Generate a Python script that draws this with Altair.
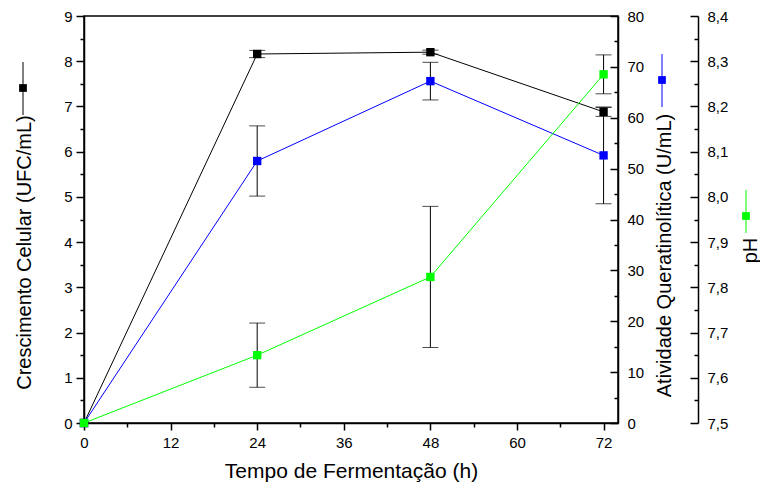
import altair as alt
import pandas as pd

# ---- data ----
time_h = [0, 24, 48, 72]
cresc = [0.0, 8.16, 8.20, 6.88]
cresc_err = [0.0, 0.08, 0.045, 0.10]
ativ = [0.0, 51.5, 67.2, 52.6]
ativ_err = [0.0, 6.9, 3.7, 9.5]
ph = [7.5, 7.65, 7.823, 8.271]
ph_err = [0.0, 0.071, 0.156, 0.043]

x_ticks = list(range(0, 73, 6))
y1_ticks = [i * 0.5 for i in range(19)]
y2_ticks = list(range(0, 81, 5))
y3_ticks = [round(7.5 + 0.05 * i, 2) for i in range(19)]

FONT = "Liberation Sans"
W, H = 534, 407


def frame(vals, errs):
    return pd.DataFrame({
        "t": time_h,
        "v": vals,
        "lo": [v - e for v, e in zip(vals, errs)],
        "hi": [v + e for v, e in zip(vals, errs)],
    })


xenc = alt.X(
    "t:Q",
    scale=alt.Scale(domain=[0, 74], nice=False, zero=False),
    axis=alt.Axis(
        values=x_ticks,
        labelExpr="datum.value % 12 === 0 ? format(datum.value, 'd') : ''",
        tickSize={"expr": "datum.value % 12 === 0 ? 7 : 4"},
        labelPadding=5,
        labelFlush=False,
        labelOverlap=False,
        title="Tempo de Fermentação (h)",
        titleFontSize=21,
        titlePadding=10,
        grid=False,
    ),
)


def yaxis_left():
    return dict(
        scale=alt.Scale(domain=[0, 9], nice=False, zero=False),
        axis=alt.Axis(
            orient="left",
            values=y1_ticks,
            labelExpr="datum.value % 1 === 0 ? format(datum.value, 'd') : ''",
            tickSize={"expr": "datum.value % 1 === 0 ? 8 : 4"},
            labelPadding=4,
            labelOverlap=False,
            grid=False,
            title="Crescimento Celular (UFC/mL)",
            titleX=-60, titleY=236, titleAngle=270,
            titleAlign="center", titleBaseline="middle",
        ),
    )


def yaxis_blue():
    return dict(
        scale=alt.Scale(domain=[0, 80], nice=False, zero=False),
        axis=alt.Axis(
            orient="right",
            offset=0,
            values=y2_ticks,
            labelExpr="datum.value % 10 === 0 ? format(datum.value, 'd') : ''",
            tickSize={"expr": "datum.value % 10 === 0 ? -8 : -4"},
            labelPadding=17,
            labelOverlap=False,
            grid=False,
            title="Atividade Queratinolítica (U/mL)",
            titleX=46, titleY=239, titleAngle=270,
            titleAlign="center", titleBaseline="middle",
        ),
    )


def yaxis_ph():
    major = "abs(datum.value*10 - round(datum.value*10)) < 0.000001"
    return dict(
        scale=alt.Scale(domain=[7.5, 8.4], nice=False, zero=False),
        axis=alt.Axis(
            orient="right",
            offset=80,
            values=y3_ticks,
            labelExpr=f"{major} ? replace(format(datum.value, '.1f'), '.', ',') : ''",
            tickSize={"expr": f"{major} ? -8 : -4"},
            labelPadding=17,
            labelOverlap=False,
            grid=False,
            title="pH",
            titleX=52, titleY=234, titleAngle=270,
            titleAlign="center", titleBaseline="middle",
        ),
    )


def series(df, color, yfn, glyph_x, glyph_y1, glyph_y2, glyph_sq):
    base = alt.Chart(df)
    line = base.mark_line(color=color, strokeWidth=1).encode(
        x=xenc, y=alt.Y("v:Q", **yfn()))
    err = base.transform_filter("datum.hi > datum.lo")
    rule = err.mark_rule(color="black", strokeWidth=1).encode(
        x=xenc, y=alt.Y("lo:Q", **yfn()), y2="hi:Q")
    cap_lo = err.mark_tick(orient="horizontal", size=16, thickness=1, color="black").encode(
        x=xenc, y=alt.Y("lo:Q", **yfn()))
    cap_hi = err.mark_tick(orient="horizontal", size=16, thickness=1, color="black").encode(
        x=xenc, y=alt.Y("hi:Q", **yfn()))
    pts = base.mark_square(size=70, color=color, opacity=1).encode(
        x=xenc, y=alt.Y("v:Q", **yfn()))
    one = alt.Chart(pd.DataFrame({"k": [0]}))
    g_line = one.mark_rule(color=color, strokeWidth=1).encode(
        x=alt.value(glyph_x), y=alt.value(glyph_y1), y2=alt.value(glyph_y2))
    g_sq = one.mark_square(size=60, color=color, opacity=1).encode(
        x=alt.value(glyph_x), y=alt.value(glyph_sq))
    return alt.layer(line, rule, cap_lo, cap_hi, pts, g_line, g_sq)


black = series(frame(cresc, cresc_err), "#000000", yaxis_left, -61, 46, 99, 72)
blue = series(frame(ativ, ativ_err), "#0000FF", yaxis_blue, 578, 38, 91, 64)
green = series(frame(ph, ph_err), "#00FF00", yaxis_ph, 662, 174, 217, 200)

chart = (
    alt.layer(black, blue, green)
    .resolve_scale(y="independent")
    .properties(
        width=W, height=H,
        autosize=alt.AutoSizeParams(type="none"),
        padding={"left": 84, "top": 16, "right": 142, "bottom": 63},
        background="white",
    )
    .configure_view(stroke="black", strokeWidth=1.5)
    .configure_axis(
        domainColor="black", domainWidth=1.5,
        tickColor="black", tickWidth=1.5,
        labelColor="black", labelFont=FONT, labelFontSize=15,
        titleColor="black", titleFont=FONT, titleFontSize=20, titleFontWeight="normal",
    )
)

chart.save("out.html", embed_options={"renderer": "svg", "actions": False})
